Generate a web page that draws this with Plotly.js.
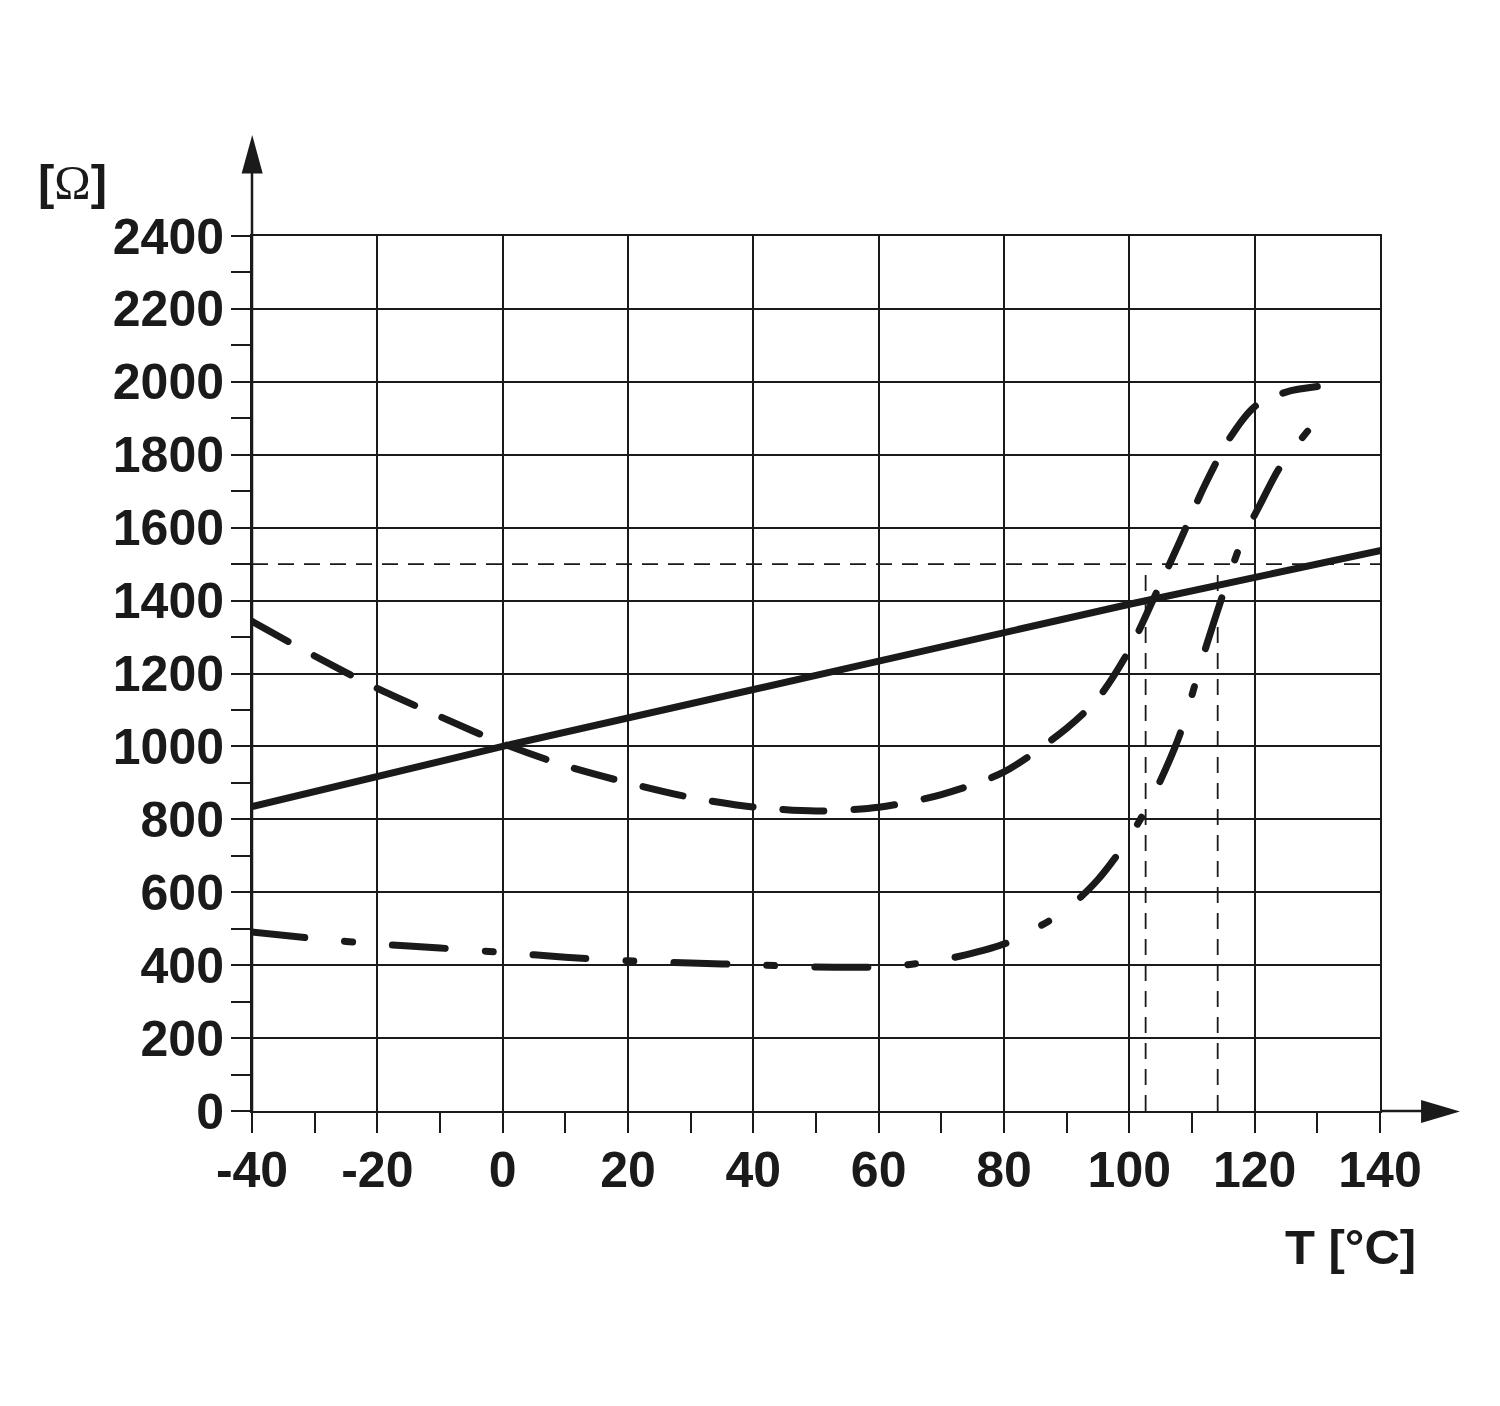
<!DOCTYPE html>
<html>
<head>
<meta charset="utf-8">
<script src="https://cdn.plot.ly/plotly-3.0.1.min.js"></script>
<style>
  html, body { margin: 0; padding: 0; background: #ffffff; }
  #chart { width: 1500px; height: 1406px; }
  .scatterlayer .trace:nth-child(-n+3) .js-line { stroke-linecap: round !important; }
</style>
</head>
<body>
<div id="chart"></div>
<script>
// ---- data ----
const xTickVals = [-40, -20, 0, 20, 40, 60, 80, 100, 120, 140];
const xTickText = ["-40", "-20", "0", "20", "40", "60", "80", "100", "120", "140"];
const yTickVals = [0, 200, 400, 600, 800, 1000, 1200, 1400, 1600, 1800, 2000, 2200, 2400];
const yTickText = ["0", "200", "400", "600", "800", "1000", "1200", "1400", "1600", "1800", "2000", "2200", "2400"];

// solid line
const tSolid = [-40, 0, 50, 100, 140];
const rSolid = [835, 1000, 1195, 1390, 1537];

// long dashed curve
const tDash = [-40, -30, -20, -10, 0, 10, 20, 30, 40, 50, 60, 70, 80, 90, 95, 100, 104, 108, 112, 116, 120, 125, 130];
const rDash = [1343, 1248, 1159, 1082, 1008, 947, 900, 860, 834, 823, 833, 868, 930, 1050, 1132, 1265, 1410, 1560, 1715, 1845, 1932, 1972, 1987];

// dash-dot curve
const tDashDot = [-40, -30, -20, -10, 0, 10, 20, 30, 40, 50, 60, 65, 70, 75, 80, 85, 90, 95, 100, 104, 108, 112, 115, 118, 121, 124, 128.5];
const rDashDot = [491, 473, 458, 447, 435, 422, 412, 406, 401, 395, 395, 402, 414, 433, 458, 500, 553, 635, 750, 872, 1030, 1260, 1420, 1565, 1668, 1765, 1866];

// thin dashed reference lines
const refLevel = 1500;
const refT1 = 102.6;
const refT2 = 114.1;
const xMin = -40, xMax = 140, yMin = 0, yMax = 2400;

const ink = '#1a1a1a';

const traces = [
  { x: tSolid, y: rSolid, mode: 'lines', line: { color: ink, width: 7 }, hoverinfo: 'skip' },
  { x: tDash, y: rDash, mode: 'lines', line: { color: ink, width: 7, shape: 'spline', smoothing: 0.8, dash: '41px,30px' }, hoverinfo: 'skip' },
  { x: tDashDot, y: rDashDot, mode: 'lines', line: { color: ink, width: 7, shape: 'spline', smoothing: 0.8, dash: '53px,40px,8px,40px' }, hoverinfo: 'skip' },
  { x: [xMin, xMax], y: [refLevel, refLevel], mode: 'lines', line: { color: ink, width: 1.8, dash: '16px,10px' }, hoverinfo: 'skip' },
  { x: [refT1, refT1], y: [yMin, refLevel], mode: 'lines', line: { color: ink, width: 1.8, dash: '16px,10px' }, hoverinfo: 'skip' },
  { x: [refT2, refT2], y: [yMin, refLevel], mode: 'lines', line: { color: ink, width: 1.8, dash: '16px,10px' }, hoverinfo: 'skip' }
];

const tickFont = { family: 'Liberation Sans, Arial, sans-serif', size: 50, weight: 'bold', color: ink };

const layout = {
  width: 1500, height: 1406,
  paper_bgcolor: '#ffffff', plot_bgcolor: '#ffffff',
  margin: { l: 252, r: 120, t: 236, b: 295, pad: 0 },
  showlegend: false,
  xaxis: {
    range: [xMin, xMax], fixedrange: true,
    tickmode: 'array', tickvals: xTickVals, ticktext: xTickText,
    ticks: 'outside', ticklen: 20, tickwidth: 2, tickcolor: ink,
    minor: { tickmode: 'linear', tick0: -40, dtick: 10, ticks: 'outside', ticklen: 20, tickwidth: 2, tickcolor: ink, showgrid: false },
    showgrid: true, gridcolor: ink, gridwidth: 2,
    zeroline: false, showline: true, mirror: true, linecolor: ink, linewidth: 2,
    tickfont: tickFont, ticklabelstandoff: -6
  },
  yaxis: {
    range: [yMin, yMax], fixedrange: true,
    tickmode: 'array', tickvals: yTickVals, ticktext: yTickText,
    ticks: 'outside', ticklen: 19, tickwidth: 2, tickcolor: ink,
    minor: { tickmode: 'linear', tick0: 0, dtick: 100, ticks: 'outside', ticklen: 19, tickwidth: 2, tickcolor: ink, showgrid: false },
    showgrid: true, gridcolor: ink, gridwidth: 2,
    zeroline: false, showline: true, mirror: true, linecolor: ink, linewidth: 2,
    tickfont: tickFont, ticklabelstandoff: -3
  },
  shapes: [
    // y axis extension + arrow
    { type: 'line', xref: 'paper', yref: 'paper', x0: 0, x1: 0, y0: 0, y1: 1.075, line: { color: ink, width: 2.5 } },
    { type: 'path', xref: 'paper', yref: 'paper', path: 'M -0.0092,1.0715 L 0.0095,1.0715 L 0.0002,1.1154 Z', fillcolor: ink, line: { width: 0 } },
    // x axis extension + arrow
    { type: 'line', xref: 'paper', yref: 'paper', x0: 1, x1: 1.04, y0: 0, y1: 0, line: { color: ink, width: 2.5 } },
    { type: 'path', xref: 'paper', yref: 'paper', path: 'M 1.0364,0.0126 L 1.0364,-0.0137 L 1.0709,-0.0006 Z', fillcolor: ink, line: { width: 0 } }
  ],
  annotations: [
    { xref: 'paper', yref: 'paper', x: -0.1587, y: 1.0606, xanchor: 'center', yanchor: 'middle', showarrow: false,
      text: '<b>[</b><span style="font-family:Liberation Serif;font-weight:normal">Ω</span><b>]</b>',
      font: { family: 'Liberation Sans, Arial, sans-serif', size: 49, color: ink } },
    { xref: 'paper', yref: 'paper', x: 1.0337, y: -0.1554, xanchor: 'right', yanchor: 'middle', showarrow: false,
      text: '<b>T [°C]</b>',
      font: { family: 'Liberation Sans, Arial, sans-serif', size: 49, color: ink } }
  ]
};

Plotly.newPlot('chart', traces, layout, { staticPlot: true, displayModeBar: false });
</script>
</body>
</html>
